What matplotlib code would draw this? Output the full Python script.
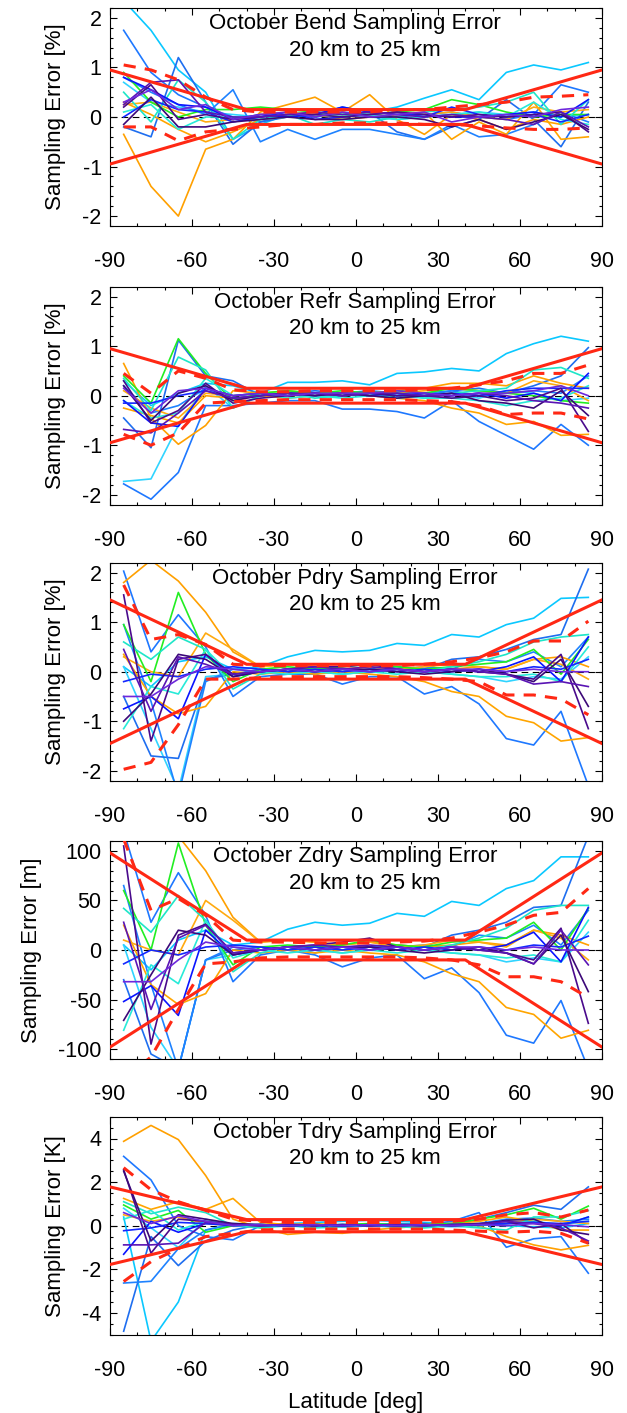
import matplotlib
matplotlib.use("Agg")
import matplotlib.pyplot as plt
from matplotlib.ticker import MultipleLocator

plt.rcParams['font.family'] = ['Liberation Sans', 'DejaVu Sans']
plt.rcParams['axes.unicode_minus'] = False

# latitude bin centres
lat = [-85, -75, -65, -55, -45, -35, -25, -15, -5, 5, 15, 25, 35, 45, 55, 65, 75, 85]

# colour of each individual sampling-error curve (same order in every panel)
line_colors = ['#0AC8FF', '#30D4FF', '#1E78FF', '#1E6EF0', '#1E82FF', '#FFA000', '#FFA500',
               '#FFAA10', '#22EE22', '#1EE6C8', '#28EAD8', '#0A14FF', '#1428FF', '#4A0A8C',
               '#3C0878', '#5A14B4', '#6E28DC']

bend_lines = [
    [2.35, 1.75, 0.95, 0.50, -0.45, -0.15, 0.05, 0.10, 0.05, 0.10, 0.20, 0.38, 0.55, 0.35, 0.90, 1.05, 0.95, 1.10],
    [0.70, 0.30, 0.20, 0.10, 0.05, 0.00, 0.05, 0.00, 0.05, 0.00, -0.05, 0.00, 0.05, 0.10, 0.05, 0.10, 0.00, 0.05],
    [1.75, 0.90, 0.45, 0.20, 0.00, -0.10, 0.05, 0.00, 0.10, 0.05, 0.00, 0.05, 0.10, 0.00, -0.05, 0.05, 0.65, 0.50],
    [-0.20, -0.40, 1.20, 0.30, -0.55, -0.10, 0.00, 0.05, 0.20, 0.10, -0.30, -0.45, -0.20, -0.05, 0.35, -0.05, -0.60, 0.30],
    [0.80, 0.50, 0.25, 0.05, 0.55, -0.50, -0.25, -0.45, -0.25, -0.25, -0.35, -0.45, -0.15, -0.40, -0.35, -0.15, 0.10, -0.10],
    [-0.35, -1.40, -2.00, -0.65, -0.45, 0.10, 0.25, 0.40, 0.10, 0.45, -0.05, -0.35, 0.05, -0.05, -0.25, -0.05, -0.15, 0.00],
    [0.30, 0.05, -0.25, -0.50, -0.30, -0.05, 0.00, 0.05, -0.05, 0.00, 0.05, 0.10, -0.45, -0.10, -0.35, 0.30, -0.45, -0.40],
    [0.25, 0.30, 0.10, -0.10, -0.05, 0.05, 0.10, 0.05, 0.00, 0.05, 0.10, 0.05, 0.10, 0.00, -0.05, 0.20, 0.10, 0.15],
    [0.90, 0.30, 0.00, 0.15, 0.15, 0.20, 0.15, 0.10, 0.05, 0.05, 0.10, 0.15, 0.35, 0.25, 0.10, 0.00, 0.05, 0.05],
    [0.50, -0.10, 0.75, 0.30, -0.45, -0.05, 0.05, -0.15, -0.05, -0.10, 0.00, 0.10, 0.15, 0.20, 0.30, 0.50, -0.15, 0.35],
    [0.10, 0.25, -0.25, 0.00, 0.00, -0.05, 0.00, 0.05, 0.00, 0.05, -0.05, 0.00, 0.05, 0.10, 0.00, 0.30, -0.05, -0.15],
    [0.80, 0.55, 0.25, 0.20, -0.05, 0.05, 0.00, 0.05, 0.20, 0.10, 0.05, 0.05, 0.00, 0.00, 0.05, 0.10, 0.00, 0.35],
    [0.00, 0.35, 0.15, 0.10, -0.10, 0.00, 0.10, -0.05, 0.00, 0.05, 0.10, 0.00, 0.20, 0.05, 0.00, 0.05, -0.10, 0.05],
    [0.20, 0.65, -0.05, 0.05, -0.05, 0.00, 0.05, 0.05, 0.00, 0.05, 0.10, 0.05, 0.00, 0.05, 0.00, 0.05, 0.10, -0.30],
    [-0.15, 0.40, -0.20, -0.20, -0.10, -0.05, 0.00, -0.05, -0.05, 0.00, 0.00, -0.05, -0.20, -0.05, -0.25, -0.10, 0.05, -0.25],
    [0.25, 0.70, 0.75, 0.10, 0.00, 0.00, 0.05, 0.10, 0.05, 0.10, 0.05, 0.00, 0.05, 0.00, -0.05, -0.15, 0.10, -0.20],
    [0.30, 0.55, 0.15, 0.25, -0.05, 0.05, 0.10, 0.00, 0.10, 0.00, 0.05, 0.10, -0.10, 0.00, 0.05, 0.00, 0.15, 0.20],
]
bend_upper = [1.05, 0.95, 0.75, 0.40, 0.15, 0.10, 0.10, 0.10, 0.10, 0.10, 0.15, 0.15, 0.20, 0.25, 0.30, 0.40, 0.42, 0.45]
bend_lower = [-0.20, -0.20, -0.48, -0.30, -0.25, -0.20, -0.15, -0.15, -0.12, -0.12, -0.12, -0.15, -0.15, -0.18, -0.22, -0.25, -0.25, -0.22]

refr_lines = [
    [0.30, -0.20, 0.05, 0.25, 0.20, 0.05, 0.27, 0.27, 0.30, 0.22, 0.45, 0.48, 0.55, 0.50, 0.85, 1.05, 1.20, 1.10],
    [-1.73, -1.68, -0.60, 0.20, -0.25, 0.00, 0.05, 0.05, 0.00, 0.05, 0.00, -0.05, 0.05, -0.05, 0.10, 0.05, -0.10, -0.05],
    [-1.78, -2.09, -1.55, -0.20, -0.20, -0.15, -0.10, -0.10, -0.27, -0.27, -0.32, -0.45, -0.10, -0.52, -0.80, -1.08, -0.58, -1.00],
    [-0.45, -1.05, 1.12, 0.40, 0.30, 0.00, 0.05, 0.10, 0.05, 0.10, 0.05, 0.00, 0.10, 0.15, 0.05, 0.20, 0.40, 0.97],
    [0.20, -0.35, -0.20, 0.15, -0.05, 0.00, 0.05, 0.00, 0.05, 0.05, 0.00, 0.05, 0.10, 0.00, 0.05, 0.10, 0.05, 0.40],
    [0.65, -0.45, -0.98, -0.60, 0.10, 0.05, 0.10, 0.05, 0.00, 0.05, 0.10, 0.15, 0.25, 0.25, 0.20, 0.40, 0.25, 0.15],
    [-0.25, -0.40, -0.55, 0.00, -0.05, 0.00, -0.05, 0.00, 0.05, 0.00, -0.05, -0.10, -0.25, -0.35, -0.58, -0.52, -0.80, -0.78],
    [0.10, -0.25, -0.45, 0.05, 0.00, 0.05, 0.00, 0.05, 0.00, 0.05, 0.05, 0.10, 0.15, 0.10, 0.05, 0.30, 0.20, -0.10],
    [0.40, -0.15, 1.15, 0.45, -0.10, 0.05, 0.10, 0.05, 0.10, 0.05, 0.10, 0.05, 0.15, 0.10, 0.05, 0.00, -0.10, -0.15],
    [0.35, -0.30, 0.78, 0.52, -0.25, 0.00, 0.05, -0.05, 0.00, 0.05, -0.05, 0.00, 0.05, 0.10, 0.15, 0.52, 0.57, 0.35],
    [-0.10, -0.45, -0.35, 0.35, 0.00, 0.05, -0.05, 0.00, -0.05, 0.00, 0.05, -0.05, -0.05, -0.10, -0.20, -0.10, -0.05, 0.20],
    [-0.10, -0.55, -0.62, 0.15, 0.00, 0.05, 0.00, 0.05, 0.00, 0.05, 0.00, 0.05, 0.00, 0.05, -0.05, 0.05, -0.10, 0.45],
    [-0.15, -0.15, 0.00, 0.10, -0.05, 0.00, 0.05, 0.00, 0.05, 0.00, 0.05, 0.00, 0.05, 0.00, 0.10, 0.15, 0.15, 0.15],
    [0.30, -0.55, -0.30, 0.25, -0.15, -0.05, 0.00, 0.05, 0.00, 0.05, 0.00, 0.00, -0.05, 0.00, -0.10, -0.05, 0.15, -0.72],
    [0.20, -0.50, 0.05, 0.20, -0.10, 0.00, 0.05, 0.00, 0.05, 0.00, -0.05, 0.00, 0.05, -0.10, -0.15, -0.25, 0.10, -0.40],
    [-0.68, -0.75, -0.35, 0.10, -0.05, 0.00, 0.05, 0.05, 0.00, 0.05, 0.05, 0.00, 0.00, 0.05, 0.00, -0.10, -0.15, -0.25],
    [0.15, -0.35, 0.10, 0.15, 0.00, 0.05, 0.00, 0.05, 0.05, 0.05, 0.10, 0.05, 0.00, 0.05, 0.05, 0.10, 0.20, 0.00],
]
refr_upper = [0.45, 0.05, 0.50, 0.35, 0.12, 0.08, 0.08, 0.10, 0.10, 0.10, 0.10, 0.12, 0.15, 0.22, 0.30, 0.45, 0.45, 0.62]
refr_lower = [-0.78, -1.00, -0.75, -0.15, -0.12, -0.10, -0.08, -0.08, -0.08, -0.08, -0.08, -0.10, -0.12, -0.20, -0.38, -0.35, -0.35, -0.47]

pdry_lines = [
    [0.10, -0.30, 0.20, 0.30, 0.05, 0.10, 0.30, 0.43, 0.40, 0.43, 0.57, 0.53, 0.75, 0.70, 0.95, 1.08, 1.48, 1.50],
    [0.10, -1.15, -2.40, -0.10, -0.05, 0.00, 0.05, 0.00, -0.05, 0.00, 0.05, 0.00, -0.05, -0.10, -0.20, -0.10, -0.15, 0.30],
    [2.03, 0.40, 1.15, 0.50, -0.50, -0.10, -0.05, -0.05, -0.25, -0.10, -0.10, -0.45, -0.30, -0.65, -1.35, -1.48, -0.80, -2.30],
    [-0.50, -1.70, -1.75, -0.15, -0.05, 0.05, 0.00, 0.05, 0.00, 0.05, 0.10, 0.05, 0.25, 0.30, 0.45, 0.65, 0.75, 2.07],
    [0.95, -0.60, -2.50, -0.20, 0.05, 0.00, 0.05, -0.05, 0.05, 0.00, 0.05, 0.10, 0.05, 0.25, 0.20, 0.40, 0.10, 0.70],
    [1.80, 2.25, 1.83, 1.20, 0.40, 0.10, 0.15, 0.10, 0.05, 0.10, 0.05, 0.00, 0.05, 0.10, 0.05, 0.25, 0.30, 0.10],
    [0.35, -0.50, -0.85, -0.70, 0.00, -0.05, 0.00, -0.05, 0.00, -0.05, -0.10, -0.20, -0.40, -0.50, -0.90, -1.03, -1.40, -1.33],
    [0.30, 0.00, -0.10, 0.78, 0.45, 0.10, 0.15, 0.10, 0.05, 0.10, 0.05, 0.10, 0.15, 0.10, 0.05, 0.25, 0.15, -0.15],
    [0.95, -0.20, 1.60, 0.35, -0.20, 0.05, 0.10, 0.05, 0.10, 0.15, 0.10, 0.05, 0.10, 0.15, 0.20, 0.45, -0.05, 0.65],
    [0.60, 0.25, 0.70, 0.45, -0.35, -0.05, 0.05, 0.00, 0.05, 0.00, 0.05, 0.00, 0.10, 0.20, 0.35, 0.60, 0.70, 0.75],
    [-1.15, -0.30, -0.45, 0.45, -0.10, 0.00, -0.05, 0.00, -0.05, 0.00, -0.05, 0.00, -0.05, -0.10, -0.10, -0.05, -0.20, 0.50],
    [-0.75, -0.50, -0.95, 0.35, -0.10, 0.00, 0.05, 0.00, 0.05, 0.00, 0.05, 0.00, 0.05, 0.00, 0.10, 0.30, -0.20, 0.70],
    [-0.20, -0.05, -0.10, 0.05, 0.10, 0.05, 0.00, 0.05, 0.00, 0.05, 0.00, 0.05, 0.00, 0.05, 0.00, 0.10, 0.05, 0.25],
    [1.55, -1.40, 0.25, 0.35, -0.05, 0.00, 0.05, 0.10, 0.10, 0.15, 0.05, 0.00, 0.05, 0.00, -0.05, -0.15, 0.35, -1.15],
    [-1.00, -0.45, 0.35, 0.25, -0.10, 0.00, 0.05, 0.00, 0.05, 0.05, 0.00, -0.05, 0.00, 0.05, -0.05, -0.20, 0.25, -0.70],
    [0.45, -0.80, 0.30, 0.15, -0.05, 0.00, 0.05, 0.10, 0.05, 0.10, 0.05, 0.00, 0.05, 0.00, -0.05, -0.25, -0.20, -0.30],
    [-0.50, -0.50, -0.15, 0.10, 0.05, 0.00, 0.05, 0.00, 0.05, 0.00, 0.05, 0.00, 0.05, 0.05, 0.00, 0.05, 0.00, 0.00],
]
pdry_upper = [1.75, 0.65, 0.75, 0.55, 0.15, 0.12, 0.12, 0.12, 0.12, 0.12, 0.12, 0.15, 0.20, 0.28, 0.40, 0.62, 0.62, 1.02]
pdry_lower = [-1.97, -1.83, -1.07, -0.15, -0.15, -0.12, -0.10, -0.10, -0.10, -0.10, -0.10, -0.12, -0.15, -0.20, -0.47, -0.47, -0.55, -0.87]

zdry_lines = [
    [5, -20, 10, 20, 5, 8, 21, 28, 25, 27, 37, 34, 49, 45, 62, 70, 94, 94],
    [5, -78, -120, -10, -5, 0, 3, 0, -3, 0, 3, 0, -3, -5, -12, -8, -12, 18],
    [120, 28, 78, 35, -32, -5, 0, -5, -17, -8, -5, -29, -18, -43, -86, -94, -51, -120],
    [-30, -105, -120, -10, 0, 3, 0, 3, 0, 3, 5, 3, 15, 20, 28, 43, 45, 115],
    [65, -35, -120, -10, 3, 0, 3, -3, 3, 0, 3, 5, 3, 15, 12, 25, 5, 40],
    [115, 118, 115, 80, 33, 8, 10, 8, 5, 8, 5, 3, 5, 8, 5, 20, 15, 5],
    [25, -35, -55, -44, 0, -3, 0, -3, 0, -3, -5, -12, -24, -32, -58, -65, -89, -81],
    [10, 0, -5, 50, 30, 8, 10, 8, 5, 8, 3, 5, 10, 8, 3, 20, 12, -10],
    [60, 0, 108, 25, -15, 3, 5, 3, 5, 10, 5, 3, 8, 10, 12, 28, 0, 42],
    [42, 18, 55, 30, -22, -3, 3, 0, 3, 0, 3, 0, 5, 12, 22, 40, 45, 45],
    [-81, -15, -34, 30, -8, 0, -3, 0, -3, 0, -3, 0, -3, -5, -8, -5, -12, 30],
    [-52, -36, -66, 20, -5, 0, 3, 0, 3, 0, 3, 0, 3, 0, 5, 18, -12, 43],
    [-14, 0, -5, 3, 5, 3, 0, 3, 0, 3, 0, 3, 0, 3, 0, 5, 3, 14],
    [105, -95, 15, 26, -3, 0, 3, 5, 8, 12, 3, 0, 3, 0, -3, -10, 22, -74],
    [-71, -25, 20, 15, -5, 0, 3, 0, 3, 3, 0, -3, 0, 3, -3, -14, 15, -42],
    [28, -60, 12, 25, -3, 0, 3, 5, 3, 5, 3, 0, 3, 0, -3, -14, 20, -15],
    [-32, -32, -10, 8, 3, 0, 3, 0, 3, 0, 3, 0, 3, 3, 0, 3, 0, 0],
]
zdry_upper = [112, 40, 52, 35, 10, 8, 8, 7, 7, 7, 8, 9, 12, 18, 25, 35, 38, 62]
zdry_lower = [-130, -108, -60, -14, -12, -8, -7, -7, -7, -7, -7, -8, -10, -15, -27, -27, -32, -48]

tdry_lines = [
    [0.40, -5.30, -3.50, -0.20, 0.10, 0.05, 0.10, 0.15, 0.20, 0.25, 0.20, 0.15, 0.10, 0.05, 0.00, -0.05, -0.10, 0.10],
    [0.80, -0.10, -1.00, 0.30, 0.00, 0.05, 0.00, 0.05, 0.00, 0.05, -0.05, 0.00, -0.05, 0.00, 0.10, 0.20, 0.05, 0.20],
    [3.18, 2.10, 0.00, -0.50, -0.65, 0.00, 0.10, 0.05, 0.00, 0.05, 0.10, 0.05, 0.20, 0.60, -0.99, -0.60, -0.50, -2.18],
    [-4.84, -0.50, -1.83, -0.70, -0.20, 0.05, 0.00, 0.05, -0.05, 0.00, 0.05, 0.10, 0.00, 0.30, 0.60, 0.94, 0.75, 1.78],
    [-2.63, -2.55, -1.05, -0.20, 0.05, 0.00, 0.05, 0.00, 0.05, 0.00, -0.05, 0.00, 0.05, 0.10, 0.30, 0.35, 0.20, 0.30],
    [3.87, 4.60, 3.95, 2.30, 0.30, -0.10, -0.40, -0.30, -0.35, -0.20, -0.10, 0.00, 0.05, 0.00, -0.50, -0.88, -1.11, -0.90],
    [1.25, 0.75, 1.10, 0.75, 1.25, 0.15, 0.05, 0.10, 0.00, 0.05, 0.00, 0.05, 0.10, 0.20, 0.40, 0.20, -0.20, -0.20],
    [0.50, 0.20, 0.40, 0.10, 0.00, -0.05, 0.00, 0.05, 0.00, 0.05, 0.00, 0.05, 0.00, 0.05, 0.10, 0.30, 0.20, 0.10],
    [0.95, 0.30, 0.70, -0.30, 0.00, 0.05, 0.00, 0.05, 0.05, 0.10, 0.05, 0.05, 0.10, 0.30, 0.50, 0.80, 0.30, 0.90],
    [1.10, 0.55, 0.85, 0.60, 0.00, -0.10, 0.00, -0.10, -0.05, 0.00, -0.05, -0.10, 0.00, -0.10, -0.20, 0.40, 0.40, 0.70],
    [0.30, 0.70, -0.20, 0.20, 0.05, 0.00, 0.05, 0.00, 0.05, 0.00, 0.05, 0.00, 0.05, 0.00, 0.10, 0.20, 0.00, 0.40],
    [-1.31, 0.20, -0.30, 0.10, 0.00, 0.05, 0.00, 0.05, 0.00, 0.05, 0.00, 0.05, 0.00, 0.05, 0.10, 0.15, 0.00, 0.40],
    [-0.23, -0.10, 0.15, 0.10, 0.05, 0.00, 0.00, 0.00, 0.00, 0.00, 0.00, 0.00, 0.05, 0.05, 0.10, 0.15, 0.10, 0.20],
    [2.57, -1.26, 0.30, 0.20, 0.05, 0.00, 0.05, 0.00, 0.05, 0.00, 0.05, 0.00, 0.05, 0.10, 0.20, -0.10, 0.10, -0.80],
    [2.50, -0.70, 0.50, 0.30, 0.10, 0.05, 0.00, 0.05, 0.00, 0.05, 0.00, 0.05, 0.00, 0.05, 0.25, 0.30, -0.20, -0.40],
    [-0.88, -0.88, -0.80, 0.15, 0.05, 0.00, 0.05, 0.00, 0.05, 0.00, 0.05, 0.00, 0.05, 0.05, 0.20, 0.10, -0.10, -0.70],
    [0.60, 0.10, 0.45, 0.20, 0.00, 0.05, 0.00, 0.05, 0.00, 0.05, 0.00, 0.05, 0.00, 0.05, 0.00, 0.10, 0.05, -0.05],
]
tdry_upper = [2.66, 1.65, 1.10, 0.70, 0.30, 0.20, 0.15, 0.15, 0.15, 0.15, 0.15, 0.15, 0.20, 0.30, 0.50, 0.60, 0.40, 0.72]
tdry_lower = [-2.56, -1.65, -1.05, -0.50, -0.35, -0.20, -0.15, -0.15, -0.15, -0.15, -0.15, -0.15, -0.20, -0.25, -0.30, -0.25, -0.35, -0.80]

# red envelope (knot latitudes and the outer / inner bound per panel)
env_lat = [-90, -40, 40, 90]
bend_env = [0.95, 0.15, 0.15, 0.95]
refr_env = [0.95, 0.15, 0.15, 0.95]
pdry_env = [1.45, 0.15, 0.15, 1.45]
zdry_env = [98, 10, 10, 98]
tdry_env = [1.78, 0.28, 0.28, 1.78]

panels = [
    ("Bend", "%", bend_lines, bend_upper, bend_lower, bend_env, 2.2, 1, 0.2),
    ("Refr", "%", refr_lines, refr_upper, refr_lower, refr_env, 2.2, 1, 0.2),
    ("Pdry", "%", pdry_lines, pdry_upper, pdry_lower, pdry_env, 2.2, 1, 0.2),
    ("Zdry", "m", zdry_lines, zdry_upper, zdry_lower, zdry_env, 110, 50, 10),
    ("Tdry", "K", tdry_lines, tdry_upper, tdry_lower, tdry_env, 5, 2, 0.5),
]

RED = '#FF2814'
W, H = 627, 1413
fig = plt.figure(figsize=(W / 100, H / 100), dpi=100)

tops = [8, 286.7, 562.7, 841, 1116.7]
ax_h = 218
left, right = 110, 602

for top, (name, unit, lines, upper, lower, env, lim, major, minor) in zip(tops, panels):
    ax = fig.add_axes([left / W, 1 - (top + ax_h) / H, (right - left) / W, ax_h / H])
    ax.axhline(0, color='black', lw=0.8, ls=(0, (6, 4)), zorder=1)
    for vals, col in zip(lines, line_colors):
        ax.plot(lat, vals, color=col, lw=1.2, zorder=2)
    ax.plot(lat, upper, color=RED, lw=2.2, ls=(0, (4, 3)), zorder=3)
    ax.plot(lat, lower, color=RED, lw=2.2, ls=(0, (4, 3)), zorder=3)
    ax.plot(env_lat, env, color=RED, lw=2.2, zorder=3)
    ax.plot(env_lat, [-v for v in env], color=RED, lw=2.2, zorder=3)

    ax.set_xlim(-90, 90)
    ax.set_ylim(-lim, lim)
    ax.xaxis.set_major_locator(MultipleLocator(30))
    ax.xaxis.set_minor_locator(MultipleLocator(10))
    ax.yaxis.set_major_locator(MultipleLocator(major))
    ax.yaxis.set_minor_locator(MultipleLocator(minor))
    ax.tick_params(which='both', direction='in', top=True, right=True, width=0.8)
    ax.tick_params(which='major', length=5)
    ax.tick_params(which='minor', length=2.5)
    ax.tick_params(axis='x', labelsize=15.5, pad=18)
    ax.tick_params(axis='y', labelsize=15.5, pad=6)
    ax.set_ylabel("Sampling Error [%s]" % unit, fontsize=16, labelpad=12)
    for sp in ax.spines.values():
        sp.set_linewidth(0.8)

    ax.text(0.498, 0.927, "October %s Sampling Error" % name, transform=ax.transAxes,
            ha='center', va='center', fontsize=16, zorder=5)
    ax.text(0.518, 0.807, "20 km to 25 km", transform=ax.transAxes,
            ha='center', va='center', fontsize=16, zorder=5)

ax.set_xlabel("Latitude [deg]", fontsize=16, labelpad=8)

fig.savefig("out.png", dpi=100)
plt.close(fig)
